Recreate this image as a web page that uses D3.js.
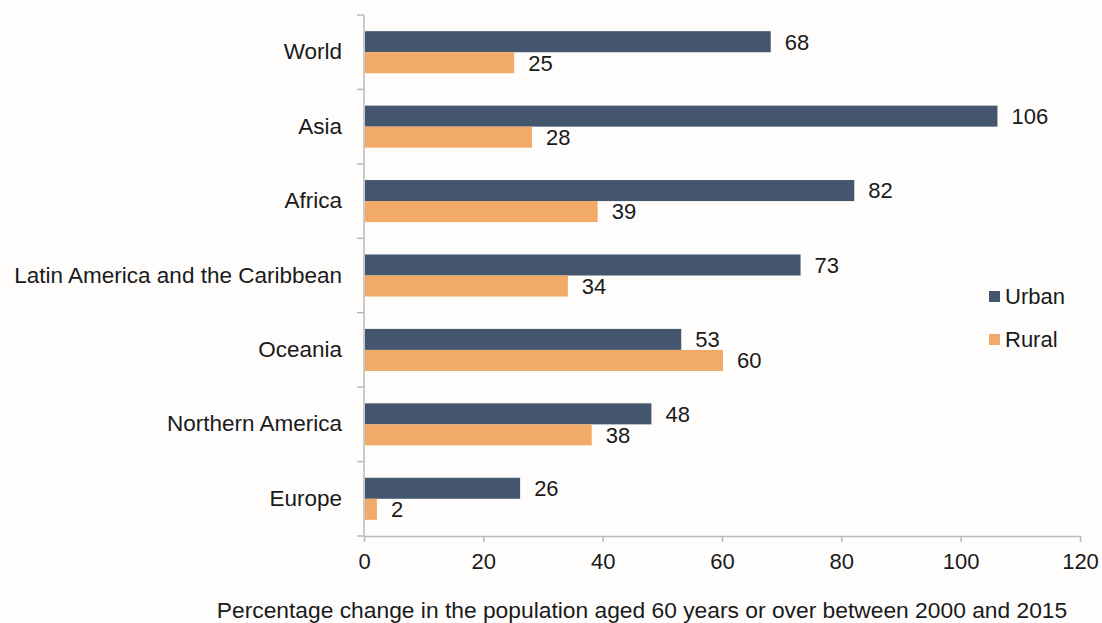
<!DOCTYPE html>
<html>
<head>
<meta charset="utf-8">
<script src="https://cdn.jsdelivr.net/npm/d3@7"></script>
<style>
  body { margin: 0; background: #fefdfc; }
  text { font-family: "Liberation Sans", Arial, sans-serif; fill: #1a1a1a; }
</style>
</head>
<body>
<div id="chart"></div>
<script>
// data
var regions = ["World", "Asia", "Africa", "Latin America and the Caribbean", "Oceania", "Northern America", "Europe"];
var urban = [68, 106, 82, 73, 53, 48, 26];
var rural = [25, 28, 39, 34, 60, 38, 2];
var series = ["Urban", "Rural"];
var colors = ["#44566e", "#f2aa68"];
var xTicks = [0, 20, 40, 60, 80, 100, 120];

var W = 1102, H = 623, fs = "22px";
var svg = d3.select("#chart").append("svg")
    .attr("width", W).attr("height", H);

var x = d3.scaleLinear().domain([0, 120]).range([364, 1080]);
var y0 = d3.scaleBand().domain(regions).range([15, 536]);
var y1 = d3.scaleBand().domain(series).range([0, y0.bandwidth()]).paddingInner(0).paddingOuter(0.77);

var rows = regions.map(function (r, i) { return { region: r, values: [urban[i], rural[i]] }; });

// bars
var g = svg.selectAll(".row").data(rows).enter().append("g")
    .attr("transform", function (d) { return "translate(0," + y0(d.region) + ")"; });

g.selectAll("rect").data(function (d) { return d.values.map(function (v, j) { return { s: series[j], v: v, j: j }; }); })
  .enter().append("rect")
    .attr("x", x(0) + 1)
    .attr("y", function (d) { return y1(d.s); })
    .attr("width", function (d) { return x(d.v) - x(0); })
    .attr("height", y1.bandwidth())
    .attr("fill", function (d) { return colors[d.j]; });

g.selectAll(".val").data(function (d) { return d.values.map(function (v, j) { return { s: series[j], v: v }; }); })
  .enter().append("text")
    .attr("x", function (d) { return x(d.v) + 15; })
    .attr("y", function (d) { return y1(d.s) + y1.bandwidth() / 2; })
    .attr("dy", "0.36em")
    .style("font-size", fs)
    .text(function (d) { return d.v; });

// y axis
var yAxis = svg.append("g").attr("transform", "translate(" + x(0) + ",0)");
yAxis.append("line").attr("y1", 15).attr("y2", 536).attr("stroke", "#b8b8b8").attr("stroke-width", 1.5);
yAxis.selectAll(".tk").data(d3.range(regions.length + 1)).enter().append("line")
    .attr("x1", -7).attr("x2", 0)
    .attr("y1", function (i) { return 15 + i * y0.step(); })
    .attr("y2", function (i) { return 15 + i * y0.step(); })
    .attr("stroke", "#b8b8b8").attr("stroke-width", 1.5);
svg.selectAll(".cat").data(regions).enter().append("text")
    .attr("x", 342)
    .attr("y", function (d) { return y0(d) + y0.bandwidth() / 2 - 1; })
    .attr("dy", "0.36em")
    .attr("text-anchor", "end")
    .style("font-size", "22.5px")
    .text(function (d) { return d; });

// x axis
var xAxis = svg.append("g").attr("transform", "translate(0,536)")
    .call(d3.axisBottom(x).tickValues(xTicks).tickSize(6).tickPadding(11).tickSizeOuter(0));
xAxis.select(".domain").attr("stroke", "#b8b8b8").attr("stroke-width", 1.5);
xAxis.selectAll(".tick line").attr("stroke", "#b8b8b8").attr("stroke-width", 1.5);
xAxis.selectAll(".tick text").style("font-size", fs).attr("fill", "#1a1a1a")
    .style("font-family", "'Liberation Sans', Arial, sans-serif");

svg.append("text")
    .attr("x", 642).attr("y", 618)
    .attr("text-anchor", "middle")
    .style("font-size", "22.8px")
    .text("Percentage change in the population aged 60 years or over between 2000 and 2015");

// legend
var leg = svg.selectAll(".leg").data(series).enter().append("g")
    .attr("transform", function (d, i) { return "translate(989," + (291 + i * 43) + ")"; });
leg.append("rect").attr("width", 11).attr("height", 11)
    .attr("fill", function (d, i) { return colors[i]; });
leg.append("text").attr("x", 16).attr("y", 5.5).attr("dy", "0.36em")
    .style("font-size", fs)
    .text(function (d) { return d; });
</script>
</body>
</html>
